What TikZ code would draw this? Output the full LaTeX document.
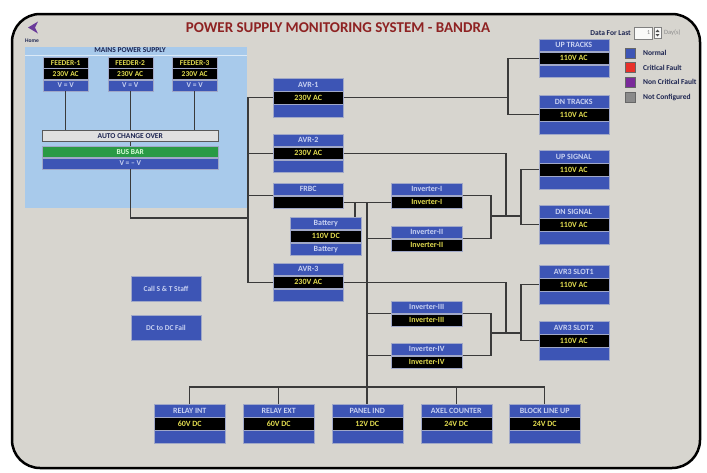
\documentclass[tikz,border=0pt]{standalone}
\usepackage{fontspec}
\setmainfont{Carlito}
\definecolor{bg}{HTML}{D7D5CF}
\definecolor{pblue}{HTML}{3D55B5}
\definecolor{ptxt}{HTML}{C9D2F2}
\definecolor{pyel}{HTML}{E2DC50}
\definecolor{mains}{HTML}{A8CAEB}
\definecolor{wire}{HTML}{3A3A3A}
\definecolor{ttl}{HTML}{8E2222}
\definecolor{rowline}{HTML}{A0A8C8}
\definecolor{navy}{HTML}{1C2450}
\definecolor{busgreen}{HTML}{2A9A45}
\definecolor{homep}{HTML}{6A3A9A}
\definecolor{lred}{HTML}{E8302A}
\definecolor{lpur}{HTML}{7A2A9A}
\definecolor{lgray}{HTML}{8A8A8A}
\tikzset{
  row/.style={minimum width=70pt, minimum height=12.6pt, inner sep=0pt,
    font=\fontsize{8}{9}\selectfont\bfseries, draw=rowline, line width=0.5pt},
  trow/.style={row, fill=pblue, text=ptxt},
  vrow/.style={row, fill=black, text=pyel},
  brow/.style={row, fill=pblue, text=ptxt},
  fbk/.style={minimum width=45pt, minimum height=11pt, inner sep=0pt,
    font=\fontsize{7.5}{8}\selectfont\bfseries, draw=rowline, line width=0.4pt, fill=black, text=pyel},
  fbl/.style={fbk, fill=pblue, text=ptxt},
  wide/.style={minimum width=176pt, minimum height=11pt, inner sep=0pt,
    font=\fontsize{7.5}{8}\selectfont\bfseries, line width=0.5pt},
  wire/.style={draw=wire, line width=1.3pt},
  btn/.style={minimum width=70pt, minimum height=25pt, inner sep=0pt, fill=pblue,
    draw=rowline, line width=0.5pt, text=ptxt, font=\fontsize{7.5}{8}\selectfont\bfseries},
  legsq/.style={minimum width=10pt, minimum height=10pt, inner sep=0pt, draw=black!60, line width=0.4pt},
  legtx/.style={anchor=west, inner sep=0pt, text=navy, font=\fontsize{7.5}{8}\selectfont\bfseries}
}
\newcommand\tribox[7]{%
  \node[trow,minimum width=#4,anchor=north west] (#1t) at (#2,#3) {#5};
  \node[vrow,minimum width=#4,anchor=north] (#1v) at (#1t.south) {#6};
  \node[brow,minimum width=#4,anchor=north] (#1b) at (#1v.south) {#7};}
\newcommand\duobox[6]{%
  \node[trow,minimum width=#4,anchor=north west] (#1t) at (#2,#3) {#5};
  \node[vrow,minimum width=#4,anchor=north] (#1v) at (#1t.south) {#6};}
\newcommand\feeder[3]{%
  \node[fbk,anchor=north west] (#1n) at (#2,57) {#3};
  \node[fbk,anchor=north] (#1v) at (#1n.south) {230V AC};
  \node[fbl,anchor=north] (#1b) at (#1v.south) {V = V};}
\begin{document}
\begin{tikzpicture}[x=1pt,y=-1pt]
\useasboundingbox (0,0) rectangle (707,472);
\fill[white] (0,0) rectangle (707,472);
\draw[line width=2.5pt, fill=bg, rounded corners=28pt] (12,14) rectangle (700,468);

% title and header
\node[text=ttl, font=\fontsize{15}{16}\selectfont\bfseries, inner sep=0pt] (title) at (338,28) {POWER SUPPLY MONITORING SYSTEM - BANDRA};
\fill[homep] (28,27.5) -- (38,21.5) -- (35,27.5) -- (38,33.5) -- cycle;
\node[text=navy, font=\fontsize{5.5}{6}\selectfont\bfseries, inner sep=0pt] (home) at (32,41) {Home};

\node[anchor=east, inner sep=0pt, text=navy, font=\fontsize{7.5}{8}\selectfont\bfseries] (dfl) at (631,33) {Data For Last};
\node[anchor=west, minimum width=18pt, minimum height=12pt, inner sep=1pt, fill=white!85!bg, draw=black!50, line width=0.4pt, text=black!50, font=\fontsize{6}{7}\selectfont, align=right, text width=14pt] (dbox) at (634,33) {1};
\node[anchor=west, minimum width=7pt, minimum height=11pt, inner sep=0pt, fill=white!85!bg, draw=black!50, line width=0.4pt] (spin) at (654,33) {};
\fill[black!70] (655.5,32) -- (659.5,32) -- (657.5,29.5) -- cycle;
\fill[black!70] (655.5,34) -- (659.5,34) -- (657.5,36.5) -- cycle;
\node[anchor=west, inner sep=0pt, text=black!45, font=\fontsize{6.5}{7}\selectfont] (days) at (664,33) {Day(s)};

% legend
\node[legsq, fill=pblue] (lg1) at (630,53) {};
\node[legtx] (lt1) at (643,53) {Normal};
\node[legsq, fill=lred] (lg2) at (630,67.5) {};
\node[legtx] (lt2) at (643,67.5) {Critical Fault};
\node[legsq, fill=lpur] (lg3) at (630,82) {};
\node[legtx] (lt3) at (643,82) {Non Critical Fault};
\node[legsq, fill=lgray] (lg4) at (630,97) {};
\node[legtx] (lt4) at (643,97) {Not Configured};

% mains panel
\fill[mains] (25,47) rectangle (247,208);
\draw[white!60!mains, line width=0.6pt] (25,55.5) -- (247,55.5);
\node[text=navy, font=\fontsize{7.5}{8}\selectfont\bfseries, inner sep=0pt] (mtitle) at (130,50.5) {MAINS POWER SUPPLY};
\feeder{fa}{43}{FEEDER-1}
\feeder{fb}{107.5}{FEEDER-2}
\feeder{fc}{172}{FEEDER-3}
\node[wide, fill=black!12, draw=black!65, text=navy, anchor=north west] (aco) at (42,130) {AUTO CHANGE OVER};
\node[wide, fill=busgreen, draw=rowline, text=green!15, anchor=north west] (bust) at (42,146) {BUS BAR};
\node[wide, fill=pblue, draw=rowline, text=ptxt, anchor=north] (busv) at (bust.south) {V = -- V};

% boxes
\tribox{avr1}{273}{78}{70pt}{AVR-1}{230V AC}{}
\tribox{avr2}{273}{133.5}{70pt}{AVR-2}{230V AC}{}
\duobox{frbc}{273}{182.5}{70pt}{FRBC}{}
\tribox{batt}{290}{216.5}{71pt}{Battery}{110V DC}{Battery}
\tribox{avr3}{273}{262.5}{70pt}{AVR-3}{230V AC}{}
\duobox{inva}{391}{182.5}{71pt}{Inverter-I}{Inverter-I}
\duobox{invb}{391}{225.5}{71pt}{Inverter-II}{Inverter-II}
\duobox{invc}{391}{300.5}{71pt}{Inverter-III}{Inverter-III}
\duobox{invd}{391}{342.5}{71pt}{Inverter-IV}{Inverter-IV}
\tribox{upt}{538.5}{38.5}{70pt}{UP TRACKS}{110V AC}{}
\tribox{dnt}{538.5}{95}{70pt}{DN TRACKS}{110V AC}{}
\tribox{ups}{538.5}{150}{70pt}{UP SIGNAL}{110V AC}{}
\tribox{dns}{538.5}{205}{70pt}{DN SIGNAL}{110V AC}{}
\tribox{sla}{538.5}{265}{70pt}{AVR3 SLOT1}{110V AC}{}
\tribox{slb}{538.5}{321}{70pt}{AVR3 SLOT2}{110V AC}{}
\tribox{rit}{154}{404}{71pt}{RELAY INT}{60V DC}{}
\tribox{ret}{243}{404}{71pt}{RELAY EXT}{60V DC}{}
\tribox{pnt}{331.5}{404}{71pt}{PANEL IND}{12V DC}{}
\tribox{axt}{420.5}{404}{71pt}{AXEL COUNTER}{24V DC}{}
\tribox{blt}{509}{404}{71pt}{BLOCK LINE UP}{24V DC}{}

\node[btn] (call) at (166,288.5) {Call S \& T Staff};
\node[btn] (dcdc) at (166,327.5) {DC to DC Fail};

% wires
\coordinate (LB) at (248,97);
\coordinate (LBm) at (248,218);
\coordinate (XT) at (508,0);
\coordinate (XA) at (506,0);
\coordinate (XI) at (491,0);
\coordinate (XS) at (521,0);
\coordinate (JS) at (521,216);
\coordinate (JL) at (521,333);
\coordinate (XB) at (355,0);
\coordinate (XV) at (367,0);
\coordinate (YB) at (0,387);

\draw[wire] (fab.south) -- (fab.south |- aco.north);
\draw[wire] (fbb.south) -- (fbb.south |- aco.north);
\draw[wire] (fcb.south) -- (fcb.south |- aco.north);
\draw[wire] (aco.south) -- (bust.north);
\draw[wire] (busv.south) |- (LBm);

\draw[wire] (avr1v.west) -- (avr1v.west -| LB) -- (avr3v.west -| LB) -- (avr3v.west);
\draw[wire] (avr2v.west) -- (avr2v.west -| LB);
\draw[wire] (frbcv.north west) -- (frbcv.north west -| LB);

\draw[wire] (avr1v.east) -- (avr1v.east -| XT);
\draw[wire] (uptv.west) -- (uptv.west -| XT) -- (dntv.west -| XT) -- (dntv.west);

\draw[wire] (avr2v.east) -- (avr2v.east -| XA) -- (XA |- JS);
\draw[wire] (invav.north east) -- (invav.north east -| XI) -- (invbv.north east -| XI) -- (invbv.north east);
\draw[wire] (XI |- JS) -- (JS);
\draw[wire] (upsv.west) -- (upsv.west -| XS) -- (dnsv.west -| XS) -- (dnsv.west);

\draw[wire] (avr3v.east) -- (avr3v.east -| XA) -- (XA |- JL);
\draw[wire] (invcv.north east) -- (invcv.north east -| XI) -- (invdv.north east -| XI) -- (invdv.north east);
\draw[wire] (XI |- JL) -- (JL);
\draw[wire] (slav.west) -- (slav.west -| XS) -- (slbv.west -| XS) -- (slbv.west);

\draw[wire] (frbcv.east) -- (frbcv.east -| invav.west);
\draw[wire] (XB |- frbcv.east) -- (XB |- battt.north);
\draw[wire] (XV |- frbcv.east) -- (XV |- pntt.north);
\draw[wire] (XV |- invbv.north west) -- (invbv.north west);
\draw[wire] (XV |- invcv.north west) -- (invcv.north west);
\draw[wire] (XV |- invdv.north west) -- (invdv.north west);

\draw[wire] (ritt.north) -- (ritt.north |- YB) -- (bltt.north |- YB) -- (bltt.north);
\draw[wire] (rett.north) -- (rett.north |- YB);
\draw[wire] (axtt.north) -- (axtt.north |- YB);
\end{tikzpicture}
\end{document}
